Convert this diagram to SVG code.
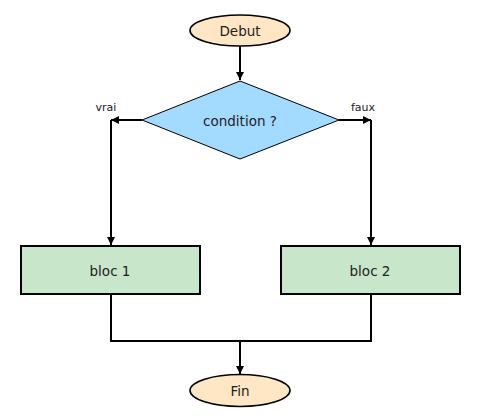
<svg xmlns="http://www.w3.org/2000/svg" width="480" height="420" viewBox="0 0 480 420">
<style>
text{font-family:"DejaVu Sans",sans-serif;fill:#222;text-anchor:middle;dominant-baseline:central}
.n{font-size:13.5px}
.l{font-size:11px}
.term{fill:#ffe6c4;stroke:#000;stroke-width:1.6}
.box{fill:#c8e6c9;stroke:#000;stroke-width:2}
.dec{fill:#a3daff;stroke:#000;stroke-width:1}
.c{fill:none;stroke:#000;stroke-width:2}
</style>
<defs>
<marker id="a" viewBox="0 0 10 10" refX="10" refY="5" markerWidth="4" markerHeight="4" markerUnits="strokeWidth" orient="auto">
<path d="M0,0L10,5L0,10z" fill="#000"/>
</marker>
</defs>
<rect width="480" height="420" fill="#fff"/>
<g id="connectors">
<path class="c" d="M240,46V80" marker-end="url(#a)"/>
<path class="c" d="M142,120H111" marker-end="url(#a)"/>
<path class="c" d="M111,120V245" marker-end="url(#a)"/>
<path class="c" d="M339,120H371" marker-end="url(#a)"/>
<path class="c" d="M371,120V245" marker-end="url(#a)"/>
<path class="c" d="M111,295V341H371V295"/>
<path class="c" d="M240,341V374" marker-end="url(#a)"/>
<text class="l" x="106" y="107">vrai</text>
<text class="l" x="363" y="107">faux</text>
</g>
<g id="debut">
<ellipse class="term" cx="240" cy="30.5" rx="50" ry="15.5"/>
<text class="n" x="240" y="31">Debut</text>
</g>
<g id="condition">
<polygon class="dec" points="240,81 339,120 240,159 142,120"/>
<text class="n" x="240" y="121">condition ?</text>
</g>
<g id="bloc1">
<rect class="box" x="21" y="246" width="179" height="48"/>
<text class="n" x="110" y="271">bloc 1</text>
</g>
<g id="bloc2">
<rect class="box" x="281" y="246" width="179" height="48"/>
<text class="n" x="370" y="271">bloc 2</text>
</g>
<g id="fin">
<ellipse class="term" cx="240" cy="390.5" rx="50" ry="16"/>
<text class="n" x="240" y="391">Fin</text>
</g>
</svg>
